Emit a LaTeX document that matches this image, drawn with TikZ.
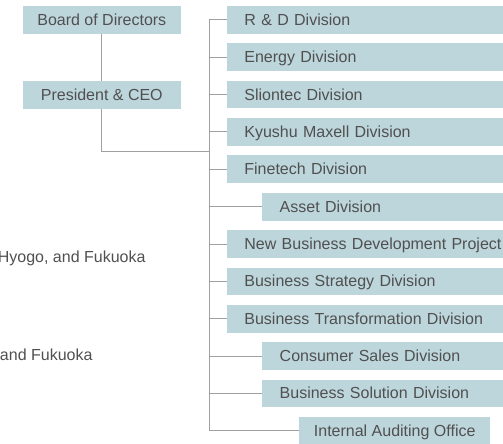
\documentclass[tikz,border=0pt]{standalone}
\usepackage{fontspec}
\setmainfont{Liberation Sans}
\definecolor{boxfill}{HTML}{BDD6DB}
\definecolor{linkgray}{HTML}{A0A0A0}
\definecolor{labelgray}{HTML}{505050}
\begin{document}
\begin{tikzpicture}[x=1pt,y=-1pt,
  every node/.style={font=\fontsize{16}{19}\selectfont, text=labelgray},
  topbox/.style={fill=boxfill, minimum width=158.3pt, minimum height=27.7pt, inner sep=0pt,
    text height=12pt, text depth=1.1pt},
  unitbox/.style={fill=boxfill, anchor=west, minimum height=27.7pt, inner ysep=0pt,
    inner xsep=17.5pt, align=left, text height=12pt, text depth=1.1pt},
  link/.style={draw=linkgray, line width=0.9pt},
  note/.style={anchor=east, inner sep=0pt}]
\useasboundingbox (0,0) rectangle (503,444);
\clip (0,0) rectangle (503,444);

% top management
\node[topbox] (board) at (101.8,19.9) {Board of Directors};
\node[topbox] (ceo) at (101.8,94.9) {President \& CEO};

% divisions and offices, one row every 37.36 px
\def\rowy#1{6+13.85+37.36*#1}
\node[unitbox, text width=290pt] (rd)   at (226.7,{\rowy{0}}) {R \& D Division};
\node[unitbox, text width=290pt] (en)   at (226.7,{\rowy{1}}) {Energy Division};
\node[unitbox, text width=290pt] (sl)   at (226.7,{\rowy{2}}) {Sliontec Division};
\node[unitbox, text width=290pt] (ky)   at (226.7,{\rowy{3}}) {Kyushu Maxell Division};
\node[unitbox, text width=290pt] (fi)   at (226.7,{\rowy{4}}) {Finetech Division};
\node[unitbox, text width=255pt] (as)   at (262,{\rowy{5}}) {Asset Division};
\node[unitbox, text width=290pt] (nb)   at (226.7,{\rowy{6}}) {New Business Development Project};
\node[unitbox, text width=290pt] (bs)   at (226.7,{\rowy{7}}) {Business Strategy Division};
\node[unitbox, text width=290pt] (bt)   at (226.7,{\rowy{8}}) {Business Transformation Division};
\node[unitbox, text width=255pt] (cs)   at (262,{\rowy{9}}) {Consumer Sales Division};
\node[unitbox, text width=255pt] (bsol) at (262,{\rowy{10}}) {Business Solution Division};
\node[fill=boxfill, anchor=west, minimum width=191pt, minimum height=27.7pt, inner sep=0pt,
  text height=12pt, text depth=1.1pt] (ia) at (299,{\rowy{11}}) {Internal Auditing Office};

% trunk line and branches
\coordinate (trunktop) at (209,{\rowy{0}});
\coordinate (trunkbot) at (209,{\rowy{11}});
\coordinate (ceoturn) at (101.8,151.7);
\coordinate (ceojoin) at (209,151.7);
\draw[link] (board.south) -- (ceo.north);
\draw[link] (ceo.south) -- (ceoturn) -- (ceojoin);
\draw[link] (trunktop) -- (trunkbot);
\foreach \n in {rd,en,sl,ky,fi,as,nb,bs,bt,cs,bsol,ia}
  \draw[link] (\n.west) -- (trunktop |- \n.west);

% location notes
\node[note] (locA) at (145.7,258) {Hyogo, and Fukuoka};
\node[note] (locB) at (92.7,355) {and Fukuoka};
\end{tikzpicture}
\end{document}
